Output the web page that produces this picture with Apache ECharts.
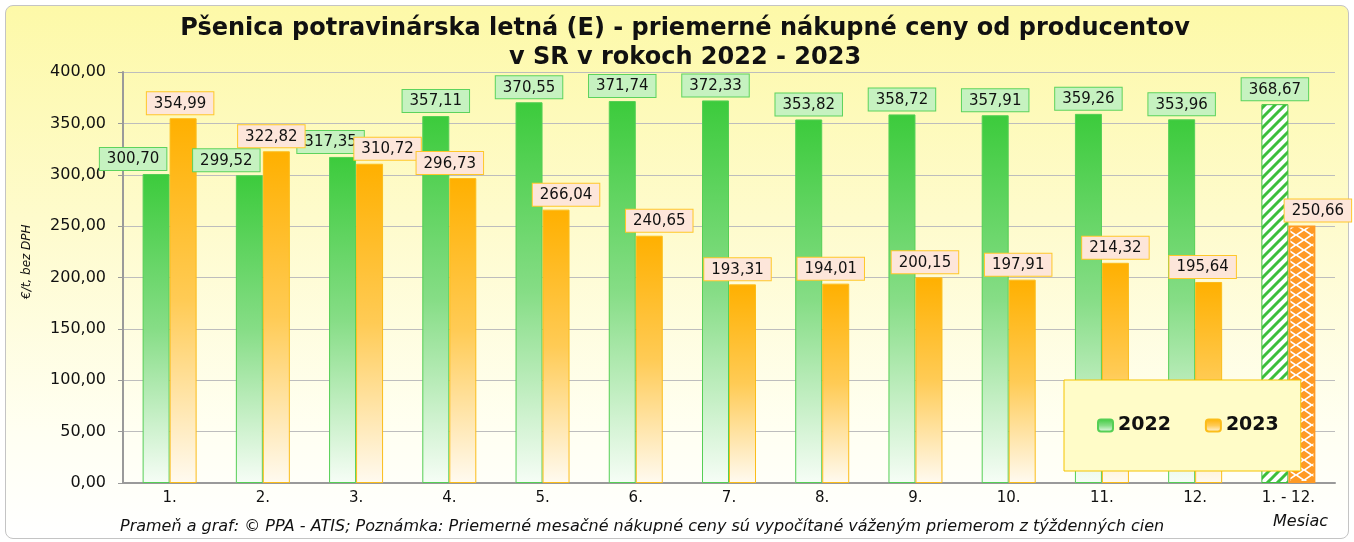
<!DOCTYPE html>
<html>
<head>
<meta charset="utf-8">
<script src="https://cdn.jsdelivr.net/npm/echarts@6/dist/echarts.min.js"></script>
<style>
  html, body { margin: 0; padding: 0; background: #fff; }
  #frame {
    position: absolute; left: 5px; top: 5px; width: 1342px; height: 532px;
    border: 1px solid #c4c4c4; border-radius: 8px;
    background: linear-gradient(to bottom, #fdf9a8 0%, #fefbcc 40%, #fffff2 80%, #ffffff 100%);
  }
  #main { position: absolute; left: 0; top: 0; width: 1354px; height: 542px; }
</style>
</head>
<body>
<div id="frame"></div>
<div id="main"></div>
<script>
// mesiace
var months = ['1.', '2.', '3.', '4.', '5.', '6.', '7.', '8.', '9.', '10.', '11.', '12.', '1. - 12.'];
// priemerné nákupné ceny (€/t, bez DPH)
var prices2022 = [300.70, 299.52, 317.35, 357.11, 370.55, 371.74, 372.33, 353.82, 358.72, 357.91, 359.26, 353.96, 368.67];
var prices2023 = [354.99, 322.82, 310.72, 296.73, 266.04, 240.65, 193.31, 194.01, 200.15, 197.91, 214.32, 195.64, 250.66];
var yTicks = [0, 50, 100, 150, 200, 250, 300, 350, 400];

// posuny popiskov (ako v povodnom grafe)
var shift2022 = [-23, -23, -12, 0, 0, 0, 0, 0, 0, 0, 0, 0, 0];
var shift2023 = [-3, -5, 18, -13, 10, 10, -5, -5, -4, -4, 0, -6, 16];

function fmt(v) { return v.toFixed(2).replace('.', ','); }

// vzorky pre stlpce za cely rok
function stripes() {
    var c = document.createElement('canvas');
    c.width = 10; c.height = 10;
    var g = c.getContext('2d');
    g.fillStyle = '#fff'; g.fillRect(0, 0, 10, 10);
    g.strokeStyle = '#3cbf3c'; g.lineWidth = 3;
    g.beginPath();
    g.moveTo(-2, 12); g.lineTo(12, -2);
    g.moveTo(-7, 7); g.lineTo(7, -7);
    g.moveTo(3, 17); g.lineTo(17, 3);
    g.stroke();
    return c;
}
function diamonds() {
    var c = document.createElement('canvas');
    c.width = 16; c.height = 10;
    var g = c.getContext('2d');
    g.fillStyle = '#fff'; g.fillRect(0, 0, 16, 10);
    g.fillStyle = '#ff9a24';
    [[0, 0], [16, 0], [0, 10], [16, 10], [8, 5]].forEach(function (p) {
        g.beginPath();
        g.moveTo(p[0], p[1] - 4.2); g.lineTo(p[0] + 6.2, p[1]);
        g.lineTo(p[0], p[1] + 4.2); g.lineTo(p[0] - 6.2, p[1]);
        g.closePath(); g.fill();
    });
    return c;
}

var green = new echarts.graphic.LinearGradient(0, 0, 0, 1, [
    { offset: 0, color: '#3ccb3c' }, { offset: 0.5, color: '#86dd86' }, { offset: 1, color: '#f6fdf6' }
]);
var orange = new echarts.graphic.LinearGradient(0, 0, 0, 1, [
    { offset: 0, color: '#ffb000' }, { offset: 0.5, color: '#ffcb55' }, { offset: 1, color: '#fffaf0' }
]);

function buildData(vals, shifts, last) {
    return vals.map(function (v, i) {
        var d = { value: v, label: { offset: [shifts[i], 0] } };
        if (i === vals.length - 1) d.itemStyle = last;
        return d;
    });
}

var myChart = echarts.init(document.getElementById('main'));

var option = {
    backgroundColor: 'transparent',
    animation: false,
    title: {
        text: 'Pšenica potravinárska letná (E) - priemerné nákupné ceny od producentov\nv SR v rokoch 2022 - 2023',
        left: 680, top: 9, textAlign: 'center',
        textStyle: { fontFamily: 'DejaVu Sans', fontWeight: 'bold', fontSize: 24, lineHeight: 29, color: '#111' }
    },
    grid: { left: 123, right: 19, top: 72, bottom: 59 },
    legend: {
        left: 1064, top: 380,
        padding: [36, 22, 36, 33],
        itemGap: 34, itemWidth: 15, itemHeight: 12,
        backgroundColor: '#fffcc8', borderColor: '#f5c400', borderWidth: 1,
        textStyle: { fontFamily: 'DejaVu Sans', fontWeight: 'bold', fontSize: 19, color: '#111' },
        data: ['2022', '2023']
    },
    xAxis: {
        type: 'category',
        data: months,
        axisLine: { lineStyle: { color: '#9a9a9a', width: 2 } },
        axisTick: { show: false },
        axisLabel: { fontFamily: 'DejaVu Sans', fontSize: 15, color: '#111', margin: 8 }
    },
    yAxis: {
        type: 'value',
        min: yTicks[0], max: yTicks[yTicks.length - 1], interval: 50,
        axisLine: { show: true, lineStyle: { color: '#9a9a9a', width: 2 } },
        axisTick: { show: true, length: 5, lineStyle: { color: '#9a9a9a' } },
        axisLabel: { fontFamily: 'DejaVu Sans', fontSize: 16, color: '#111', margin: 17, formatter: fmt },
        splitLine: { lineStyle: { color: '#bdbdbd', width: 1 } }
    },
    graphic: [
        { type: 'text', x: 33, y: 299, rotation: Math.PI / 2,
          style: { text: '€/t, bez DPH', font: 'italic 12px "DejaVu Sans"', fill: '#111',
                   align: 'left', verticalAlign: 'bottom' } },
        { type: 'text', left: 120, top: 519,
          style: { text: 'Prameň a graf: © PPA - ATIS; Poznámka: Priemerné mesačné nákupné ceny sú vypočítané váženým priemerom z týždenných cien',
                   font: 'italic 16px "DejaVu Sans"', fill: '#111' } },
        { type: 'text', left: 1273, top: 514,
          style: { text: 'Mesiac', font: 'italic 16px "DejaVu Sans"', fill: '#111' } }
    ],
    series: [
        {
            name: '2022', type: 'bar', barWidth: 27, barGap: 0,
            itemStyle: { color: green, borderColor: '#55cf55', borderWidth: 1 },
            label: {
                show: true, position: 'top', distance: 4, formatter: function (p) { return fmt(p.value); },
                backgroundColor: '#c6f2c0', borderColor: '#5dd35d', borderWidth: 1, padding: [4, 7, 3, 7],
                fontFamily: 'DejaVu Sans', fontSize: 15, color: '#111'
            },
            data: buildData(prices2022, shift2022,
                { color: { image: stripes(), repeat: 'repeat' }, borderColor: '#3cbf3c', borderWidth: 1 })
        },
        {
            name: '2023', type: 'bar', barWidth: 27,
            itemStyle: { color: orange, borderColor: '#fbbd1a', borderWidth: 1 },
            label: {
                show: true, position: 'top', distance: 4, formatter: function (p) { return fmt(p.value); },
                backgroundColor: '#fde6da', borderColor: '#ffc72a', borderWidth: 1, padding: [4, 7, 3, 7],
                fontFamily: 'DejaVu Sans', fontSize: 15, color: '#111'
            },
            data: buildData(prices2023, shift2023,
                { color: { image: diamonds(), repeat: 'repeat' }, borderColor: '#ff9a24', borderWidth: 2 })
        }
    ]
};

myChart.setOption(option);
</script>
</body>
</html>
